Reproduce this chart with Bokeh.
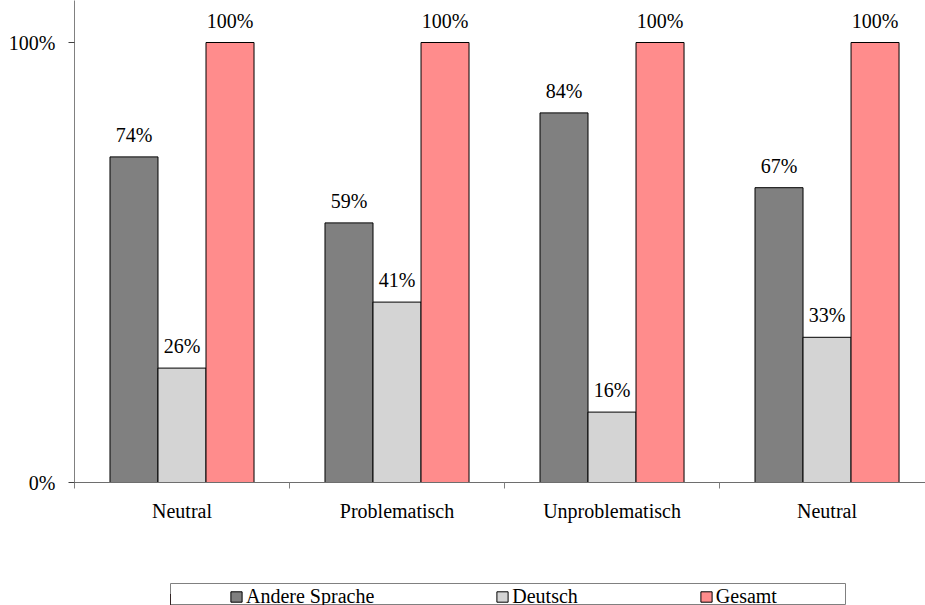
from bokeh.plotting import figure
from bokeh.layouts import column
from bokeh.models import ColumnDataSource, Range1d, FixedTicker, Legend, LegendItem
from bokeh.core.properties import value
from bokeh.embed import file_html
from bokeh.resources import INLINE

# Data
categories = ["Neutral", "Problematisch", "Unproblematisch", "Neutral"]
series_names = ["Andere Sprache", "Deutsch", "Gesamt"]
andere_sprache = [0.74, 0.59, 0.84, 0.67]
deutsch = [0.26, 0.41, 0.16, 0.33]
gesamt = [1.00, 1.00, 1.00, 1.00]
y_tick_labels = {0: "0%", 1: "100%"}

colors = ["#808080", "#d4d4d4", "#ff8c8c"]
FONT = "Liberation Serif"
FS = "20px"

bar_w = 0.2233
offsets = [-bar_w, 0.0, bar_w]
centers = [i + 0.5 for i in range(len(categories))]

# Main bar chart
p = figure(width=925, height=583, output_backend="svg", toolbar_location=None,
           x_range=Range1d(0, 3.958), y_range=Range1d(0, 482 / 440),
           min_border_left=74, min_border_right=0, min_border_top=0,
           min_border_bottom=101)
p.outline_line_color = None
p.xgrid.visible = False
p.ygrid.visible = False

for name, vals, off, col in zip(series_names, [andere_sprache, deutsch, gesamt], offsets, colors):
    src = ColumnDataSource(dict(
        x=[c + off for c in centers],
        top=vals,
        label=[f"{round(v * 100)}%" for v in vals],
    ))
    p.vbar(x="x", top="top", width=bar_w, bottom=0, source=src,
           fill_color=col, line_color="black", line_width=1)
    p.text(x="x", y="top", text="label", source=src, text_align="center",
           text_baseline="bottom", y_offset=-11, text_font=value(FONT),
           text_font_size=FS, text_color="black")

# x axis: category names at centers, separator ticks at boundaries
p.xaxis.ticker = FixedTicker(ticks=centers, minor_ticks=list(range(len(categories) + 1)))
p.xaxis.major_label_overrides = {c: cat for c, cat in zip(centers, categories)}
p.xaxis.major_tick_out = 0
p.xaxis.major_tick_in = 0
p.xaxis.minor_tick_out = 6
p.xaxis.minor_tick_in = 0
p.xaxis.minor_tick_line_color = "#808080"
p.xaxis.axis_line_color = "#6e6e6e"
p.xaxis.major_label_text_font = FONT
p.xaxis.major_label_text_font_size = FS
p.xaxis.major_label_text_color = "black"
p.xaxis.major_label_standoff = 11

# y axis
p.yaxis.ticker = FixedTicker(ticks=[0, 1], minor_ticks=[])
p.yaxis.major_label_overrides = y_tick_labels
p.yaxis.major_tick_out = 6
p.yaxis.major_tick_in = 0
p.yaxis.major_tick_line_color = "#404040"
p.yaxis.axis_line_color = "#808080"
p.yaxis.major_label_text_font = FONT
p.yaxis.major_label_text_font_size = FS
p.yaxis.major_label_text_color = "black"
p.yaxis.major_label_standoff = 13

# Legend strip, framed, below the chart (its frame outline is the legend box)
lg = figure(width=750, height=22, output_backend="svg", toolbar_location=None,
            x_range=Range1d(0, 1), y_range=Range1d(0, 1),
            x_axis_location=None, y_axis_location=None,
            min_border_left=74, min_border_right=0, min_border_top=0,
            min_border_bottom=0, margin=(0, 0, 0, 96))
lg.xgrid.visible = False
lg.ygrid.visible = False
lg.outline_line_color = "#808080"
lg.outline_line_width = 1

# swatch renderers for the legend, kept outside the strip's visible range
items = []
for name, col in zip(series_names, colors):
    r = lg.vbar(x=[-1], top=[0.5], width=0.1, fill_color=col,
                line_color="black", line_width=1)
    items.append(LegendItem(label=name, renderers=[r]))

legend = Legend(items=items, orientation="horizontal", location=(59, -3),
                label_text_font=FONT, label_text_font_size=FS,
                label_text_color="black", glyph_width=14, glyph_height=13,
                label_standoff=3, spacing=121, padding=0, margin=0,
                border_line_alpha=0, background_fill_alpha=0)
lg.add_layout(legend, "center")

layout = column(p, lg, spacing=0)
open("out.html", "w").write(file_html(layout, INLINE))
